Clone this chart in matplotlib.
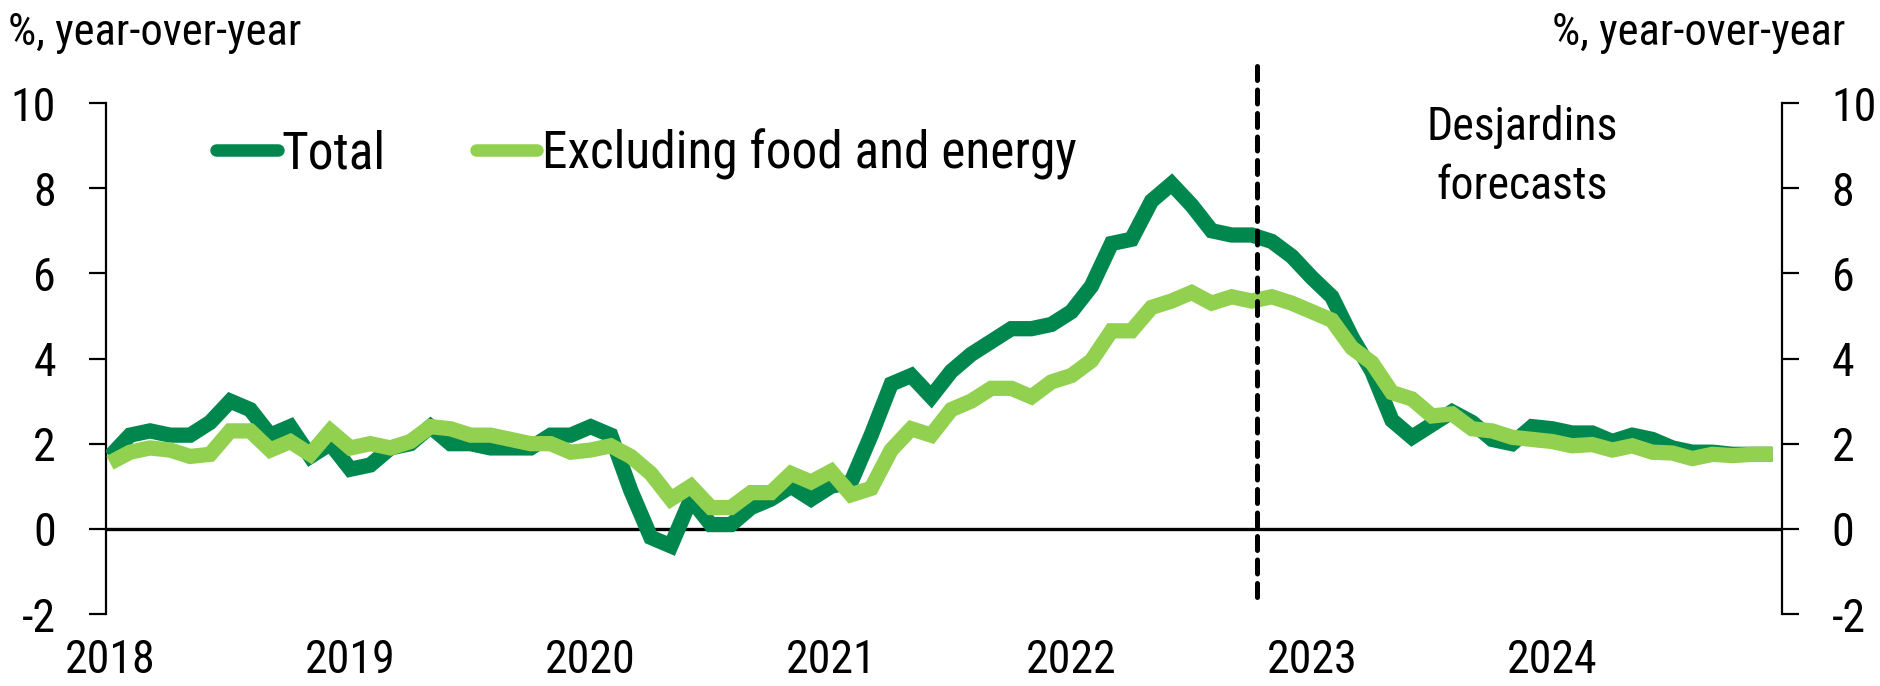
import numpy as np
import pandas as pd
import matplotlib
matplotlib.use("Agg")
import matplotlib.pyplot as plt

plt.rcParams['font.family'] = ['Roboto Condensed', 'DejaVu Sans']

months = pd.period_range('2018-01', '2024-12', freq='M')
years = ['2018', '2019', '2020', '2021', '2022', '2023', '2024']

total = [
    1.7, 2.2, 2.3, 2.2, 2.2, 2.5, 3.0, 2.8, 2.2, 2.4, 1.7, 2.0,
    1.4, 1.5, 1.9, 2.0, 2.4, 2.0, 2.0, 1.9, 1.9, 1.9, 2.2, 2.2,
    2.4, 2.2, 0.9, -0.2, -0.4, 0.7, 0.1, 0.1, 0.5, 0.7, 1.0, 0.7,
    1.0, 1.1, 2.2, 3.4, 3.6, 3.1, 3.7, 4.1, 4.4, 4.7, 4.7, 4.8,
    5.1, 5.7, 6.7, 6.8, 7.7, 8.1, 7.6, 7.0, 6.9, 6.9, 6.75, 6.4,
    5.9, 5.45, 4.5, 3.7, 2.55, 2.15, 2.45, 2.75, 2.5, 2.1, 2.0, 2.4,
    2.35, 2.25, 2.25, 2.05, 2.2, 2.1, 1.9, 1.8, 1.8, 1.75, 1.75, 1.75,
]
core = [
    1.55, 1.8, 1.9, 1.85, 1.7, 1.75, 2.3, 2.3, 1.85, 2.05, 1.75, 2.3,
    1.9, 2.0, 1.9, 2.05, 2.4, 2.35, 2.2, 2.2, 2.1, 2.0, 2.0, 1.8,
    1.85, 1.95, 1.7, 1.3, 0.7, 1.0, 0.5, 0.5, 0.85, 0.85, 1.3, 1.1,
    1.35, 0.8, 0.95, 1.85, 2.35, 2.2, 2.8, 3.0, 3.3, 3.3, 3.1, 3.45,
    3.6, 3.95, 4.65, 4.65, 5.2, 5.35, 5.55, 5.3, 5.45, 5.35, 5.45, 5.3,
    5.1, 4.9, 4.25, 3.9, 3.2, 3.05, 2.65, 2.7, 2.35, 2.3, 2.15, 2.1,
    2.05, 1.95, 1.98, 1.85, 1.95, 1.8, 1.78, 1.65, 1.75, 1.72, 1.75, 1.75,
]
forecast_start = 57.25  # months after Jan 2018
yticks = [-2, 0, 2, 4, 6, 8, 10]

dark = '#00874E'
light = '#92D050'

x = np.arange(len(months))

fig = plt.figure(figsize=(18.81, 6.86), dpi=100)
ax = fig.add_axes([106/1881, 1-614/686, (1781.7-106)/1881, (614-103)/686])

ax.plot(x, total, color=dark, lw=11, solid_joinstyle='miter', solid_capstyle='butt',
        label='Total', zorder=3)
ax.plot(x, core, color=light, lw=11, solid_joinstyle='miter', solid_capstyle='butt',
        label='Excluding food and energy', zorder=4)

ax.axhline(0, color='black', lw=2.4, zorder=2)
ax.plot([forecast_start, forecast_start], [10.87, -1.8], color='black', lw=3.6,
        linestyle=(0, (2.8, 1.9)), dash_capstyle='round', clip_on=False, zorder=5)

ax.set_xlim(-0.2, 83.46)
ax.set_ylim(-2, 10)
ax.set_yticks(yticks)
ax.set_yticklabels([str(v) for v in yticks])
ax.set_xticks([12 * i for i in range(len(years))])
ax.set_xticklabels(years)

for s in ['top', 'bottom']:
    ax.spines[s].set_visible(False)
for s in ['left', 'right']:
    ax.spines[s].set_linewidth(1.6)

ax.tick_params(axis='y', which='both', direction='out', length=12, width=1.6,
               left=True, right=True, labelleft=True, labelright=True,
               labelsize=33, pad=24)
ax.tick_params(axis='x', length=0, labelsize=33, pad=17)

fig.text(8/1881, 1-45/686, '%, year-over-year', fontsize=32, ha='left', va='baseline')
fig.text(1845/1881, 1-45/686, '%, year-over-year', fontsize=32, ha='right', va='baseline')

ax.text(70.5, 8.74, 'Desjardins\nforecasts', fontsize=33, ha='center', va='center',
        linespacing=1.42)

leg = ax.legend(loc='center left', bbox_to_anchor=(216/1881, 1-154/686),
                bbox_transform=fig.transFigure, ncol=2, frameon=False,
                fontsize=37, handlelength=1.2, handletextpad=0.08,
                columnspacing=1.75, borderpad=0, borderaxespad=0)
for h in leg.get_lines():
    h.set_solid_capstyle('round')
    h.set_linewidth(9)

fig.savefig('out.png', dpi=100)
